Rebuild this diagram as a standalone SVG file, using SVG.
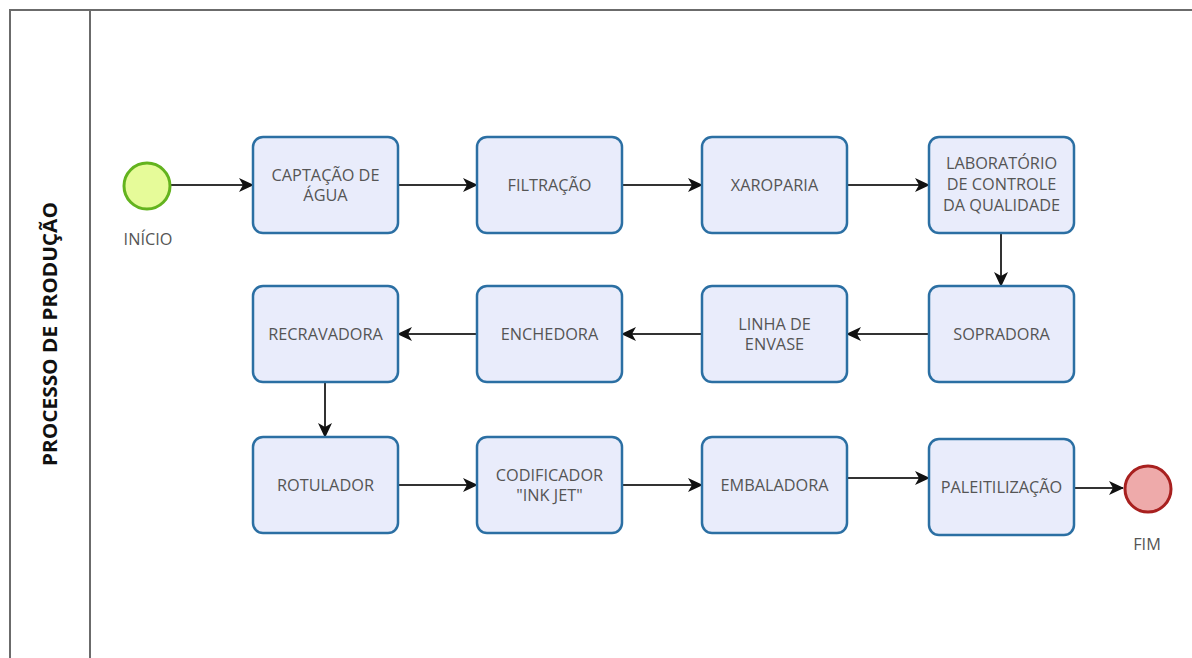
<svg xmlns="http://www.w3.org/2000/svg" width="1192" height="658" viewBox="0 0 1192 658">
  <style>
    .lane { fill: none; stroke: #6b6b6b; stroke-width: 2; }
    .task rect { fill: #e9ecfb; stroke: #2b6fa3; stroke-width: 2.5; }
    .label { font-family: "Open Sans", "Liberation Sans", sans-serif; font-size: 16.3px; fill: #555; text-anchor: middle; }
    .lanelabel { font-family: "Open Sans", "Liberation Sans", sans-serif; font-size: 19px; font-weight: bold; fill: #111; text-anchor: middle; }
    .flow { fill: none; stroke: #333; stroke-width: 2; marker-end: url(#arrow); }
  </style>
  <defs>
    <marker id="arrow" viewBox="0 0 15 14" refX="14" refY="7" markerWidth="15" markerHeight="14" markerUnits="userSpaceOnUse" orient="auto">
      <path d="M0,0 L15,7 L0,14 L4,7 z" fill="#111"/>
    </marker>
  </defs>

  <rect width="1192" height="658" fill="#fff"/>

  <!-- pool and lane header -->
  <g id="pool">
    <path class="lane" d="M1200,10 H10 V670"/>
    <line class="lane" x1="90" y1="10" x2="90" y2="670"/>
    <text class="lanelabel" transform="translate(57,334) rotate(-90)" textLength="264" lengthAdjust="spacingAndGlyphs">PROCESSO DE PRODUÇÃO</text>
  </g>

  <!-- sequence flows -->
  <g id="connectors">
    <line class="flow" x1="171" y1="185" x2="253" y2="185"/>
    <line class="flow" x1="398" y1="185" x2="477" y2="185"/>
    <line class="flow" x1="622" y1="185" x2="702" y2="185"/>
    <line class="flow" x1="847" y1="185" x2="929" y2="185"/>
    <line class="flow" x1="1001" y1="233" x2="1001" y2="286"/>
    <line class="flow" x1="929" y1="334" x2="847" y2="334"/>
    <line class="flow" x1="702" y1="334" x2="622" y2="334"/>
    <line class="flow" x1="477" y1="334" x2="398" y2="334"/>
    <line class="flow" x1="325" y1="382" x2="325" y2="437"/>
    <line class="flow" x1="398" y1="485" x2="477" y2="485"/>
    <line class="flow" x1="622" y1="485" x2="702" y2="485"/>
    <line class="flow" x1="847" y1="478" x2="929" y2="478"/>
    <line class="flow" x1="1074" y1="488" x2="1123" y2="488"/>
  </g>

  <!-- start event -->
  <g id="inicio">
    <circle cx="147" cy="186" r="23" fill="#e6fb99" stroke="#63b31e" stroke-width="3"/>
    <text class="label" x="148" y="245">INÍCIO</text>
  </g>

  <!-- row 1 -->
  <g id="captacao" class="task">
    <rect x="253" y="137" width="145" height="96" rx="10"/>
    <text class="label" x="325.5" y="181">CAPTAÇÃO DE</text>
    <text class="label" x="325.5" y="201">ÁGUA</text>
  </g>
  <g id="filtracao" class="task">
    <rect x="477" y="137" width="145" height="96" rx="10"/>
    <text class="label" x="549.5" y="191">FILTRAÇÃO</text>
  </g>
  <g id="xaroparia" class="task">
    <rect x="702" y="137" width="145" height="96" rx="10"/>
    <text class="label" x="774.5" y="191">XAROPARIA</text>
  </g>
  <g id="laboratorio" class="task">
    <rect x="929" y="137" width="145" height="96" rx="10"/>
    <text class="label" x="1001.5" y="169">LABORATÓRIO</text>
    <text class="label" x="1001.5" y="190">DE CONTROLE</text>
    <text class="label" x="1001.5" y="211">DA QUALIDADE</text>
  </g>

  <!-- row 2 -->
  <g id="sopradora" class="task">
    <rect x="929" y="286" width="145" height="96" rx="10"/>
    <text class="label" x="1001.5" y="340">SOPRADORA</text>
  </g>
  <g id="linha-envase" class="task">
    <rect x="702" y="286" width="145" height="96" rx="10"/>
    <text class="label" x="774.5" y="330">LINHA DE</text>
    <text class="label" x="774.5" y="350">ENVASE</text>
  </g>
  <g id="enchedora" class="task">
    <rect x="477" y="286" width="145" height="96" rx="10"/>
    <text class="label" x="549.5" y="340">ENCHEDORA</text>
  </g>
  <g id="recravadora" class="task">
    <rect x="253" y="286" width="145" height="96" rx="10"/>
    <text class="label" x="325.5" y="340">RECRAVADORA</text>
  </g>

  <!-- row 3 -->
  <g id="rotulador" class="task">
    <rect x="253" y="437" width="145" height="96" rx="10"/>
    <text class="label" x="325.5" y="491">ROTULADOR</text>
  </g>
  <g id="codificador" class="task">
    <rect x="477" y="437" width="145" height="96" rx="10"/>
    <text class="label" x="549.5" y="481">CODIFICADOR</text>
    <text class="label" x="549.5" y="501">"INK JET"</text>
  </g>
  <g id="embaladora" class="task">
    <rect x="702" y="437" width="145" height="96" rx="10"/>
    <text class="label" x="774.5" y="491">EMBALADORA</text>
  </g>
  <g id="paletizacao" class="task">
    <rect x="929" y="439" width="145" height="96" rx="10"/>
    <text class="label" x="1001.5" y="493">PALEITILIZAÇÃO</text>
  </g>

  <!-- end event -->
  <g id="fim">
    <circle cx="1148" cy="489" r="23" fill="#eeaaaa" stroke="#a8201f" stroke-width="3"/>
    <text class="label" x="1147" y="550">FIM</text>
  </g>
</svg>
